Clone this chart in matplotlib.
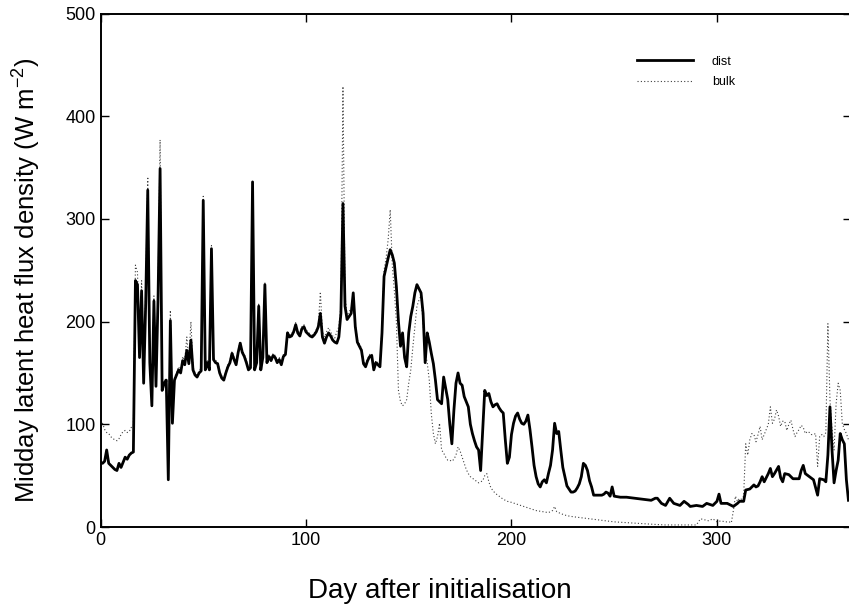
import matplotlib
matplotlib.use("Agg")
import matplotlib.pyplot as plt

# midday latent heat flux (day, W m-2)
dist_day = list(range(0, 251)) + [253, 256, 260, 264, 268, 270, 271, 273, 275, 277, 279, 282, 284, 286, 287,
                                  290, 293, 295, 298, 300, 301, 302, 305, 308, 310, 311, 313, 314, 316, 318,
                                  319, 320, 321, 322, 323, 325, 326, 327, 328, 330, 331, 332, 333, 335, 337,
                                  340, 341, 342, 343, 345, 347, 349, 350, 352, 353, 354, 355, 356, 357, 358,
                                  359, 360, 361, 362, 363, 364]
dist_val = [63, 62, 64, 75, 62, 60, 58, 56, 55, 62, 58, 63, 68, 66, 70, 72, 73,
            240, 236, 165, 230, 140, 218, 328, 160, 118, 220, 137, 222, 349, 133, 140, 143, 46, 201, 101,
            143, 148, 153, 150, 162, 158, 172, 159, 182, 153, 148, 146, 150, 152, 318, 153, 160, 153, 271,
            163, 160, 159, 150, 145, 143, 150, 156, 160, 169, 163, 158, 170, 179, 170, 166, 160, 153, 155,
            336, 153, 160, 215, 153, 165, 236, 160, 166, 162, 167, 165, 160, 163, 158, 166, 168, 189, 185,
            186, 190, 197, 189, 186, 193, 195, 190, 188, 186, 185, 187, 190, 195, 208, 185, 179, 185, 189,
            186, 182, 180, 179, 185, 208, 315, 215, 202, 205, 208, 228, 195, 180, 176, 172, 159, 156, 162,
            166, 167, 153, 160, 158, 156, 189, 244, 253, 262, 270, 265, 257, 234, 200, 176, 189, 165, 156,
            189, 205, 215, 228, 236, 232, 228, 208, 160, 189, 180, 169, 159, 143, 124, 122, 120, 146, 135,
            124, 100, 81, 114, 140, 150, 140, 138, 127, 122, 117, 100, 91, 84, 78, 75, 55, 95, 133, 128,
            130, 122, 117, 119, 120, 116, 113, 111, 85, 62, 68, 90, 101, 108, 111, 105, 101, 100, 103, 109,
            95, 78, 60, 49, 42, 39, 44, 46, 43, 52, 60, 75, 101, 91, 93, 75, 58, 49, 40, 37, 34, 34, 35, 38,
            42, 49, 62, 60, 55, 45, 39, 31, 31, 31, 31, 31, 32, 34, 33, 30, 39, 30,
            29, 29, 28, 27, 26, 28, 28, 23, 21, 28, 23, 21, 25, 22, 20,
            21, 20, 23, 21, 25, 32, 23, 23, 20, 23, 25, 25, 36, 37, 41,
            39, 40, 44, 49, 44, 52, 57, 49, 52, 59, 48, 44, 52, 51, 47,
            47, 55, 60, 52, 49, 46, 31, 47, 46, 44, 70, 117, 75, 43, 55,
            65, 91, 85, 81, 46, 26]

bulk_day = list(range(0, 181)) + [182, 184, 186, 187, 188, 189, 190, 192, 194, 196, 198, 200, 203, 206, 209,
                                  212, 215, 218, 220, 221, 222, 224, 227, 230, 234, 238, 242, 246, 250, 254,
                                  258, 262, 266, 270, 275, 280, 285, 290, 292, 294, 296, 298, 300, 302, 304,
                                  306, 307] + list(range(308, 365))
bulk_val = [98, 101, 95, 92, 91, 88, 86, 85, 84, 86, 90, 93, 94, 92, 93, 97, 99,
            255, 248, 170, 240, 145, 230, 341, 165, 120, 225, 140, 230, 377, 136, 142, 145, 50, 211, 104,
            146, 150, 156, 152, 166, 162, 185, 162, 200, 156, 150, 148, 152, 155, 322, 156, 162, 155, 274,
            165, 162, 161, 152, 147, 145, 152, 158, 162, 171, 165, 160, 172, 181, 172, 168, 162, 155, 157,
            338, 155, 162, 217, 155, 167, 238, 162, 168, 164, 169, 167, 162, 165, 160, 168, 170, 191, 187,
            188, 192, 199, 191, 188, 195, 197, 192, 190, 188, 187, 189, 192, 197, 229, 190, 185, 190, 194,
            190, 186, 184, 190, 195, 215, 429, 225, 206, 210, 212, 228, 198, 182, 178, 174, 162, 158, 164,
            168, 169, 155, 162, 160, 158, 195, 250, 262, 280, 309, 255, 230, 200, 133, 122, 118, 120, 124,
            140, 153, 175, 195, 215, 221, 225, 198, 170, 160, 143, 110, 91, 81, 88, 101, 75, 72, 68, 65,
            65, 64, 66, 70, 78, 74, 68, 62, 56, 52, 49,
            46, 43, 45, 50, 52, 44, 38, 33, 30, 27, 25, 24, 22, 20, 18,
            16, 15, 14, 16, 20, 15, 13, 11, 10, 9, 8, 7, 6, 5, 4.5,
            4, 3.5, 3, 2.5, 2, 2, 2, 2, 8, 7, 6, 8, 5, 6, 5,
            5, 4,
            16, 30, 25, 28, 27, 30, 81, 70, 85, 91, 90, 83, 90, 98, 85, 90, 95, 100, 117, 101, 105, 114,
            108, 98, 103, 103, 94, 100, 104, 95, 88, 92, 95, 99, 97, 91, 93, 92, 90, 90, 91, 59, 88, 90,
            88, 92, 198, 124, 95, 75, 120, 140, 133, 101, 95, 91, 85]

x_ticks = [0, 100, 200, 300]
y_ticks = [0, 100, 200, 300, 400, 500]

plt.rcParams['font.family'] = ['Liberation Sans', 'DejaVu Sans']
plt.rcParams['mathtext.default'] = 'regular'

fig = plt.figure(figsize=(8.49, 6.08), dpi=100)
ax = fig.add_axes([100.5 / 849, 81 / 608, 750 / 849, 513.5 / 608])

ax.plot(bulk_day, bulk_val, color='0.25', lw=0.8, linestyle=(0, (1, 2)), label='bulk', zorder=2)
ax.plot(dist_day, dist_val, color='black', lw=2.0, label='dist', zorder=3)

ax.set_xlim(0, 365)
ax.set_ylim(0, 500)
ax.set_xticks(x_ticks)
ax.set_yticks(y_ticks)
ax.tick_params(direction='in', length=6, width=1, labelsize=13, top=True, right=True)
ax.spines['right'].set_visible(False)
for s in ['left', 'bottom', 'top']:
    ax.spines[s].set_linewidth(1.4)

ax.set_xlabel('Day after initialisation', fontsize=20)
ax.xaxis.set_label_coords((440 - 100.5) / 750, -0.1)
ax.set_ylabel('Midday latent heat flux density (W m$^{-2}$)', fontsize=18.5)
ax.yaxis.set_label_coords(-0.077, 0.48)

handles, labels = ax.get_legend_handles_labels()
ax.legend(handles[::-1], labels[::-1], loc='upper left', bbox_to_anchor=(0.7, 0.94),
          frameon=False, fontsize=9, handlelength=4.5, handletextpad=1.5, labelspacing=0.7)

fig.savefig('out.png', dpi=100)
